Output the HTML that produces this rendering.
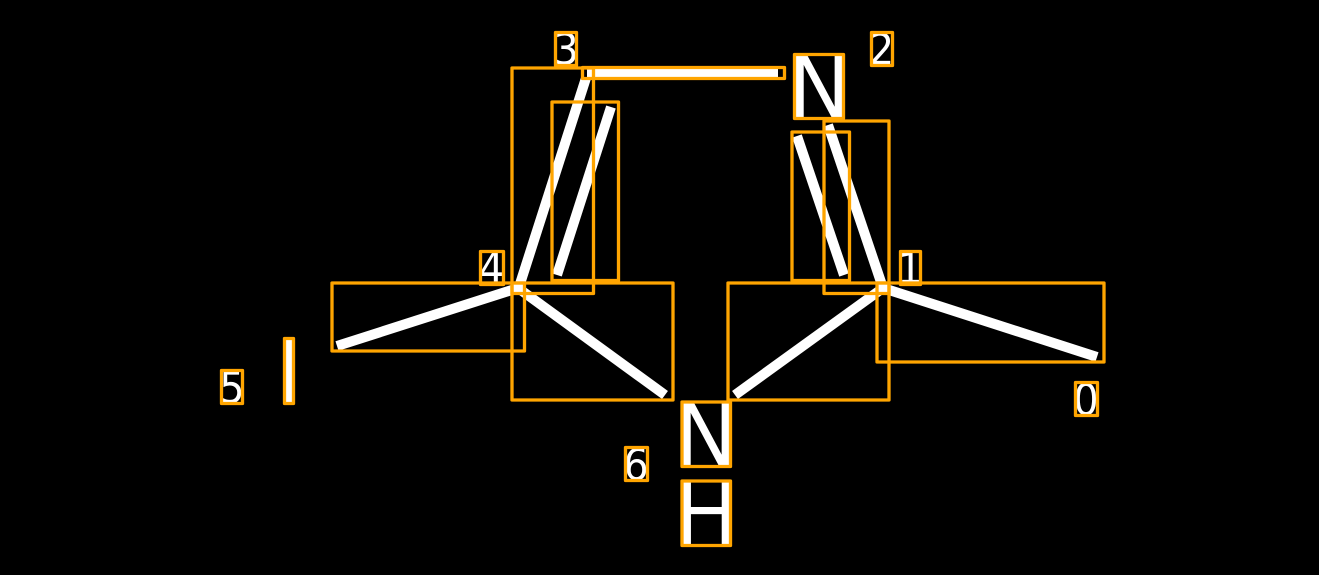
<!DOCTYPE html>
<html>
<head>
<meta charset="utf-8">
<style>
html,body{margin:0;padding:0;background:#000;width:1319px;height:575px;overflow:hidden}
svg{display:block}
text{font-family:"DejaVu Sans",sans-serif;fill:#fff}
.d{font-size:40px;text-anchor:middle}
.a{font-size:86px}
</style>
</head>
<body>
<svg width="1319" height="575" viewBox="0 0 1319 575" xmlns="http://www.w3.org/2000/svg">
<rect width="1319" height="575" fill="#000"/>
<g stroke="#fff" stroke-width="10" fill="none">
<line x1="587" y1="73" x2="778" y2="73"/>
<line x1="586" y1="78" x2="519" y2="287"/>
<line x1="611" y1="107" x2="557" y2="275"/>
<line x1="828" y1="125" x2="883" y2="288"/>
<line x1="797" y1="136" x2="844" y2="275"/>
<line x1="518" y1="288" x2="337" y2="346"/>
<line x1="518" y1="288" x2="665" y2="395"/>
<line x1="883" y1="288" x2="735" y2="395"/>
<line x1="883" y1="288" x2="1097" y2="357"/>
<line x1="289" y1="340" x2="289" y2="403"/>
</g>
<rect x="513" y="284" width="11" height="8" fill="#fff"/>
<rect x="878" y="284" width="10" height="8" fill="#fff"/>
<text class="a" x="787" y="117">N</text>
<text class="a" x="674" y="465">N</text>
<text class="a" x="674" y="544">H</text>
<text class="d" transform="translate(566,64.500) scale(1,1.080)">3</text>
<text class="d" transform="translate(881.500,64.500) scale(1,1.080)">2</text>
<text class="d" transform="translate(491.500,283.500) scale(1,1.080)">4</text>
<text class="d" transform="translate(910,283.500) scale(1,1.080)">1</text>
<text class="d" transform="translate(1086,415) scale(1,1.080)">0</text>
<text class="d" transform="translate(232,403) scale(1,1.080)">5</text>
<text class="d" transform="translate(636,480) scale(1,1.080)">6</text>
<g stroke="#FFA500" stroke-width="3.300" fill="none" stroke-linejoin="round">
<rect x="555.500" y="32.500" width="21" height="33"/>
<rect x="871.500" y="32.500" width="21" height="33"/>
<rect x="480.500" y="251.500" width="23" height="33"/>
<rect x="900.500" y="251.500" width="20" height="33"/>
<rect x="1075.500" y="382.500" width="22" height="33"/>
<rect x="221.500" y="370.500" width="21" height="33"/>
<rect x="625.500" y="447.500" width="22" height="33"/>
<rect x="794.500" y="54.500" width="49" height="64"/>
<rect x="682" y="402" width="48.500" height="64.500"/>
<rect x="682" y="481" width="48.500" height="64.500"/>
<rect x="582.500" y="67.500" width="202" height="11"/>
<rect x="512" y="68" width="81.500" height="225.500"/>
<rect x="552" y="102" width="66.500" height="178.500"/>
<rect x="824" y="121" width="65" height="172.500"/>
<rect x="792" y="132" width="57.500" height="148.500"/>
<rect x="332" y="283" width="192.500" height="68"/>
<rect x="512" y="283" width="161" height="117"/>
<rect x="728" y="283" width="161" height="117"/>
<rect x="877" y="283" width="227" height="79"/>
<rect x="284.500" y="338.500" width="9" height="65"/>
</g>
</svg>
</body>
</html>
